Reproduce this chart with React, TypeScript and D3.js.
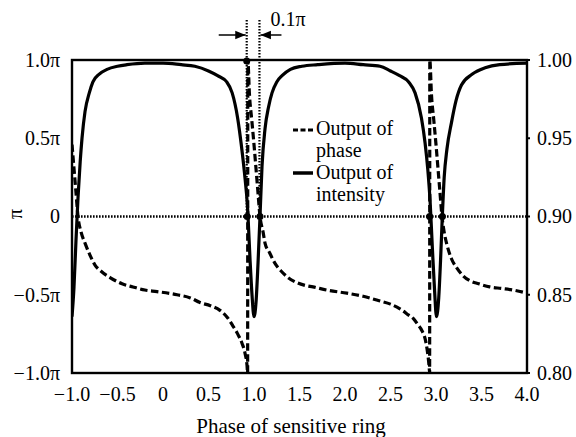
import React from "react";
import * as d3 from "d3";

// x axis: phase of sensitive ring
const xTicks = [-1, -0.5, 0, 0.5, 1, 1.5, 2, 2.5, 3, 3.5, 4];
const xTickLabels = ["−1.0", "−0.5", "0", "0.5", "1.0", "1.5", "2.0", "2.5", "3.0", "3.5", "4.0"];

// left axis (phase, in units of π)
const phaseTicks = [1, 0.5, 0, -0.5, -1];
const phaseTickLabels = ["1.0π", "0.5π", "0", "−0.5π", "−1.0π"];

// right axis (intensity)
const intensityTicks = [1.0, 0.95, 0.9, 0.85, 0.8];
const intensityTickLabels = ["1.00", "0.95", "0.90", "0.85", "0.80"];

// output of phase, [x, phase/π]
const phaseOutput: [number, number][] = [
  [-1.0, 0.46], [-0.98, 0.32], [-0.96, 0.18], [-0.934, 0.0], [-0.9, -0.1],
  [-0.857, -0.17], [-0.8, -0.25], [-0.747, -0.31], [-0.68, -0.35], [-0.582, -0.39],
  [-0.45, -0.43], [-0.33, -0.45], [-0.2, -0.47], [-0.066, -0.48], [0.154, -0.5],
  [0.3, -0.52], [0.407, -0.55], [0.52, -0.57], [0.626, -0.6], [0.7, -0.64],
  [0.769, -0.7], [0.82, -0.75], [0.868, -0.81], [0.9, -0.87], [0.923, -0.95],
  [0.93, -1.0], [0.932, 1.0], [0.95, 0.78], [0.975, 0.62], [1.0, 0.46],
  [1.02, 0.32], [1.04, 0.18], [1.066, 0.0], [1.1, -0.1], [1.121, -0.17],
  [1.17, -0.23], [1.231, -0.3], [1.3, -0.35], [1.374, -0.39], [1.46, -0.42],
  [1.56, -0.44], [1.648, -0.45], [1.8, -0.47], [2.02, -0.49], [2.2, -0.51],
  [2.385, -0.54], [2.5, -0.56], [2.604, -0.59], [2.7, -0.63], [2.747, -0.65],
  [2.8, -0.69], [2.846, -0.73], [2.88, -0.78], [2.9, -0.84], [2.923, -0.95],
  [2.93, -1.0], [2.932, 1.0], [2.95, 0.78], [2.975, 0.62], [3.0, 0.46],
  [3.02, 0.32], [3.04, 0.18], [3.066, 0.0], [3.09, -0.1], [3.12, -0.18],
  [3.17, -0.27], [3.23, -0.33], [3.3, -0.38], [3.37, -0.41], [3.47, -0.43],
  [3.59, -0.45], [3.72, -0.46], [3.846, -0.47], [4.0, -0.49],
];

// output of intensity, [x, intensity]
const intensityOutput: [number, number][] = [
  [-1.0, 0.836], [-0.978, 0.855], [-0.956, 0.885], [-0.934, 0.912], [-0.91, 0.935],
  [-0.89, 0.95], [-0.857, 0.967], [-0.81, 0.979], [-0.77, 0.986], [-0.7, 0.991],
  [-0.615, 0.994], [-0.5, 0.996], [-0.396, 0.997], [-0.2, 0.998], [0.0, 0.998],
  [0.2, 0.997], [0.35, 0.996], [0.5, 0.993], [0.6, 0.99], [0.7, 0.986],
  [0.76, 0.979], [0.82, 0.963], [0.86, 0.946], [0.895, 0.928], [0.93, 0.905],
  [0.956, 0.873], [0.978, 0.85], [1.0, 0.836], [1.022, 0.845], [1.044, 0.87],
  [1.066, 0.9], [1.088, 0.932], [1.121, 0.956], [1.16, 0.97], [1.198, 0.979],
  [1.25, 0.986], [1.308, 0.99], [1.4, 0.994], [1.527, 0.996], [1.7, 0.997],
  [2.0, 0.998], [2.2, 0.997], [2.385, 0.996], [2.5, 0.993], [2.6, 0.99],
  [2.7, 0.986], [2.77, 0.979], [2.84, 0.963], [2.88, 0.947], [2.91, 0.93],
  [2.935, 0.91], [2.96, 0.88], [2.985, 0.852], [3.005, 0.836], [3.03, 0.848],
  [3.05, 0.872], [3.068, 0.898], [3.09, 0.925], [3.12, 0.943], [3.17, 0.96],
  [3.22, 0.974], [3.28, 0.984], [3.4, 0.991], [3.54, 0.995], [3.7, 0.997],
  [4.0, 0.998],
];

// dots on the zero line
const zeroDots = [0.925, 1.066, 2.93, 3.07];
// dotted guide lines marking the 0.1π spacing
const guideX = [0.92, 1.06];

const W = 576;
const H = 437;
const left = 72;
const right = 527;
const top = 60;
const bottom = 373;
const font = "Liberation Serif";

export default function App() {
  const x = d3.scaleLinear().domain([-1, 4]).range([left, right]);
  const yPhase = d3.scaleLinear().domain([-1, 1]).range([bottom, top]);
  const yInt = d3.scaleLinear().domain([0.8, 1.0]).range([bottom, top]);

  const phaseLine = d3
    .line<[number, number]>()
    .x((d) => x(d[0]))
    .y((d) => yPhase(d[1]))
    .curve(d3.curveMonotoneX);
  const intLine = d3
    .line<[number, number]>()
    .x((d) => x(d[0]))
    .y((d) => yInt(d[1]))
    .curve(d3.curveMonotoneX);

  const g0 = x(guideX[0]);
  const g1 = x(guideX[1]);
  const zeroY = yPhase(0);
  const ts = { fontFamily: font, fontSize: 20 };

  return (
    <svg
      width={W}
      height={H}
      style={{ position: "absolute", left: 0, top: 0, background: "#fff", fontFamily: font }}
    >
      <defs>
        <clipPath id="plot">
          <rect x={left} y={top} width={right - left} height={bottom - top} />
        </clipPath>
        <marker id="arr" viewBox="0 0 10 10" refX="10" refY="5" markerWidth="7" markerHeight="7" orient="auto">
          <path d="M0,1 L10,5 L0,9 z" fill="#000" />
        </marker>
      </defs>

      {/* dotted zero line */}
      <line x1={left} x2={right} y1={zeroY} y2={zeroY} stroke="#000" strokeWidth={2.6} strokeDasharray="1.6,1.4" />

      {/* dotted guides */}
      {guideX.map((g, i) => (
        <line key={i} x1={x(g)} x2={x(g)} y1={20} y2={zeroY} stroke="#000" strokeWidth={2.2} strokeDasharray="1.6,1.4" />
      ))}

      <g clipPath="url(#plot)">
        <path d={intLine(intensityOutput) || ""} fill="none" stroke="#000" strokeWidth={3.2} strokeLinejoin="round" />
        <path d={phaseLine(phaseOutput) || ""} fill="none" stroke="#000" strokeWidth={3.2} strokeDasharray="7.5,3.5" />
      </g>

      {zeroDots.map((d, i) => (
        <circle key={i} cx={x(d)} cy={zeroY} r={3.5} fill="#000" />
      ))}
      <circle cx={x(guideX[0])} cy={top + 1} r={3.5} fill="#000" />

      {/* frame */}
      <rect x={left} y={top} width={right - left} height={bottom - top} fill="none" stroke="#000" strokeWidth={2.4} />

      {/* right axis ticks */}
      {intensityTicks.map((t, i) => (
        <line key={i} x1={right} x2={right + 3} y1={yInt(t)} y2={yInt(t)} stroke="#000" strokeWidth={2} />
      ))}

      {/* left tick labels */}
      {phaseTicks.map((t, i) => (
        <text key={i} x={60} y={yPhase(t)} dy="0.34em" textAnchor="end" style={ts}>
          {phaseTickLabels[i]}
        </text>
      ))}
      {/* right tick labels */}
      {intensityTicks.map((t, i) => (
        <text key={i} x={537} y={yInt(t)} dy="0.34em" textAnchor="start" style={ts}>
          {intensityTickLabels[i]}
        </text>
      ))}
      {/* x tick labels */}
      {xTicks.map((t, i) => (
        <text key={i} x={x(t)} y={401} textAnchor="middle" style={ts}>
          {xTickLabels[i]}
        </text>
      ))}

      <text x={291} y={433} textAnchor="middle" style={{ ...ts, fontSize: 21 }}>
        Phase of sensitive ring
      </text>
      <text transform="translate(22,214) rotate(-90)" textAnchor="middle" style={ts}>
        π
      </text>

      {/* 0.1π annotation */}
      <line x1={g0 - 28} x2={g0 - 1} y1={35} y2={35} stroke="#000" strokeWidth={1.5} markerEnd="url(#arr)" />
      <line x1={g1 + 22} x2={g1 + 1} y1={35} y2={35} stroke="#000" strokeWidth={1.5} markerEnd="url(#arr)" />
      <text x={g1 + 11} y={26} style={ts}>
        0.1π
      </text>

      {/* legend */}
      <line x1={293} x2={313} y1={130} y2={130} stroke="#000" strokeWidth={3.2} strokeDasharray="5,2.5" />
      <text x={316} y={135} style={ts}>Output of</text>
      <text x={316} y={157} style={ts}>phase</text>
      <line x1={293} x2={313} y1={173} y2={173} stroke="#000" strokeWidth={3.5} />
      <text x={316} y={179} style={ts}>Output of</text>
      <text x={316} y={201} style={ts}>intensity</text>
    </svg>
  );
}
